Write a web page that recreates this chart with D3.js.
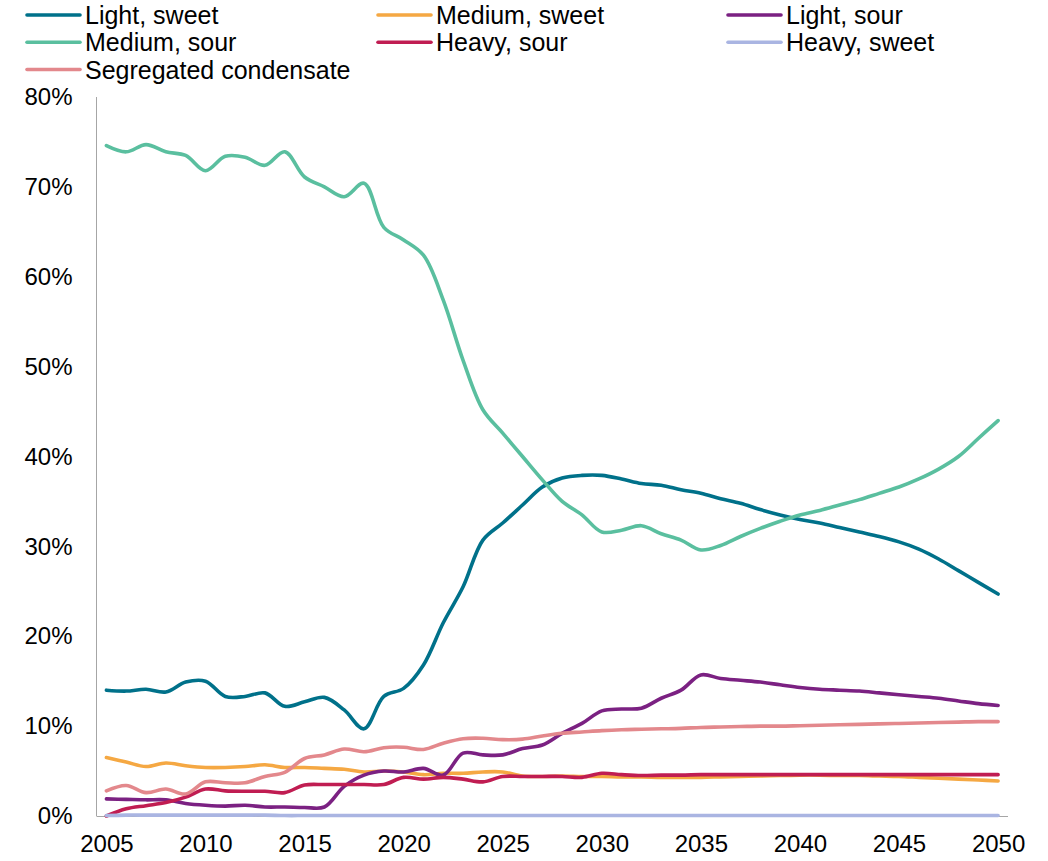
<!DOCTYPE html>
<html>
<head>
<meta charset="utf-8">
<script src="https://cdn.jsdelivr.net/npm/d3@7"></script>
<style>
  html, body { margin: 0; padding: 0; background: #fff; }
  svg { display: block; font-family: "Liberation Sans", Arial, sans-serif; }
</style>
</head>
<body>
<svg id="chart" width="1048" height="861"></svg>
<script>
// Crude oil quality shares, 2005–2050 (% of total)
const years = d3.range(2005, 2051);

const lightSweet = [14.0, 13.9, 14.1, 13.8, 14.9, 15.0, 13.3, 13.3, 13.7, 12.2,
  12.7, 13.2, 11.8, 9.7, 13.3, 14.2, 16.8, 21.5, 25.5, 30.7,
  32.6, 34.6, 36.6, 37.6, 37.9, 37.9, 37.5, 37.0, 36.8, 36.3,
  35.9, 35.3, 34.8, 34.1, 33.5, 33.0, 32.6, 32.1, 31.6, 31.1,
  30.5, 29.7, 28.6, 27.3, 26.0, 24.7];

const mediumSweet = [6.5, 6.0, 5.5, 5.9, 5.6, 5.4, 5.4, 5.5, 5.7, 5.4,
  5.4, 5.3, 5.2, 4.9, 5.0, 4.9, 4.6, 4.75, 4.75, 4.9,
  4.9, 4.45, 4.4, 4.45, 4.4, 4.4, 4.35, 4.35, 4.3, 4.3,
  4.3, 4.35, 4.4, 4.45, 4.5, 4.55, 4.55, 4.5, 4.5, 4.45,
  4.4, 4.3, 4.2, 4.1, 4.0, 3.9];

const lightSour = [1.9, 1.85, 1.8, 1.8, 1.4, 1.2, 1.1, 1.2, 1.0, 1.0,
  0.95, 1.0, 3.3, 4.55, 5.0, 4.9, 5.3, 4.55, 7.0, 6.8,
  6.8, 7.5, 7.9, 9.2, 10.3, 11.7, 11.9, 12.0, 13.1, 14.0,
  15.7, 15.3, 15.1, 14.9, 14.6, 14.3, 14.1, 14.0, 13.9, 13.7,
  13.5, 13.3, 13.1, 12.8, 12.5, 12.3];

const mediumSour = [74.6, 73.9, 74.7, 73.9, 73.5, 71.8, 73.4, 73.3, 72.4, 73.9,
  71.1, 70.0, 68.9, 70.4, 65.5, 64.1, 62.4, 57.4, 50.7, 45.2,
  42.6, 40.0, 37.4, 35.0, 33.5, 31.6, 31.8, 32.3, 31.4, 30.7,
  29.6, 30.1, 31.1, 32.0, 32.8, 33.5, 34.0, 34.6, 35.2, 35.9,
  36.6, 37.5, 38.6, 40.0, 42.0, 44.0];

const heavySour = [0.0, 0.8, 1.15, 1.5, 2.1, 3.0, 2.8, 2.75, 2.75, 2.6,
  3.45, 3.5, 3.5, 3.5, 3.5, 4.3, 4.1, 4.3, 4.1, 3.8,
  4.4, 4.4, 4.4, 4.4, 4.3, 4.75, 4.6, 4.5, 4.55, 4.55,
  4.6, 4.6, 4.6, 4.6, 4.6, 4.6, 4.6, 4.6, 4.6, 4.6,
  4.6, 4.6, 4.6, 4.6, 4.6, 4.6];

const heavySweet = [0.05, 0.1, 0.1, 0.1, 0.1, 0.1, 0.1, 0.1, 0.1, 0.05,
  0.05, 0.05, 0.05, 0.05, 0.05, 0.05, 0.05, 0.05, 0.05, 0.05,
  0.05, 0.05, 0.05, 0.05, 0.05, 0.05, 0.05, 0.05, 0.05, 0.05,
  0.05, 0.05, 0.05, 0.05, 0.05, 0.05, 0.05, 0.05, 0.05, 0.05,
  0.05, 0.05, 0.05, 0.05, 0.05, 0.05];

const segregatedCondensate = [2.8, 3.4, 2.6, 3.0, 2.45, 3.8, 3.7, 3.7, 4.4, 4.85,
  6.4, 6.8, 7.45, 7.15, 7.6, 7.65, 7.4, 8.1, 8.6, 8.65,
  8.5, 8.55, 8.9, 9.2, 9.35, 9.5, 9.6, 9.65, 9.7, 9.75,
  9.85, 9.9, 9.95, 10.0, 10.0, 10.05, 10.1, 10.15, 10.2, 10.25,
  10.3, 10.35, 10.4, 10.45, 10.5, 10.5];

const seriesNames = ["Light, sweet", "Medium, sweet", "Light, sour", "Medium, sour",
  "Heavy, sour", "Heavy, sweet", "Segregated condensate"];
const seriesColors = ["#00718a", "#f5a843", "#7b2182", "#5abf9f",
  "#c01d52", "#aab5e2", "#e3888c"];
const seriesValues = [lightSweet, mediumSweet, lightSour, mediumSour,
  heavySour, heavySweet, segregatedCondensate];

const yTicks = [0, 10, 20, 30, 40, 50, 60, 70, 80];
const xTicks = [2005, 2010, 2015, 2020, 2025, 2030, 2035, 2040, 2045, 2050];

const svg = d3.select("#chart");

// Plot frame: category axis spans 46 slots, points centred in each slot
const plotLeft = 96.5, plotRight = 1008, plotTop = 97, plotBottom = 816;
const slot = (plotRight - plotLeft) / years.length;

const x = d3.scaleLinear()
  .domain([2005, 2050])
  .range([plotLeft + slot / 2, plotRight - slot / 2]);
const y = d3.scaleLinear().domain([0, 80]).range([plotBottom, plotTop]);

// Axis lines
svg.append("line")
  .attr("x1", plotLeft).attr("x2", plotLeft)
  .attr("y1", plotTop).attr("y2", plotBottom)
  .attr("stroke", "#a6a6a6").attr("stroke-width", 1);
svg.append("line")
  .attr("x1", plotLeft).attr("x2", plotRight)
  .attr("y1", plotBottom + 0.5).attr("y2", plotBottom + 0.5)
  .attr("stroke", "#a6a6a6").attr("stroke-width", 1);

// Y axis labels
const yAxis = d3.axisLeft(y)
  .tickValues(yTicks)
  .tickFormat(d => d + "%")
  .tickSize(0)
  .tickPadding(24);
const yg = svg.append("g").attr("transform", `translate(${plotLeft},0)`).call(yAxis);
yg.select(".domain").remove();
yg.selectAll("text")
  .attr("font-size", 24)
  .attr("font-family", "Liberation Sans, Arial, sans-serif")
  .attr("fill", "#000");

// X axis labels
const xAxis = d3.axisBottom(x)
  .tickValues(xTicks)
  .tickFormat(d3.format("d"))
  .tickSize(0)
  .tickPadding(19);
const xg = svg.append("g").attr("transform", `translate(0,${plotBottom})`).call(xAxis);
xg.select(".domain").remove();
xg.selectAll("text")
  .attr("font-size", 24)
  .attr("font-family", "Liberation Sans, Arial, sans-serif")
  .attr("fill", "#000");

// Smoothed series lines
const line = d3.line()
  .x((d, i) => x(years[i]))
  .y(d => y(d))
  .curve(d3.curveCatmullRom.alpha(0.5));

svg.append("g")
  .selectAll("path")
  .data(seriesValues)
  .join("path")
  .attr("d", d => line(d))
  .attr("fill", "none")
  .attr("stroke", (d, i) => seriesColors[i])
  .attr("stroke-width", 3.6)
  .attr("stroke-linecap", "round")
  .attr("stroke-linejoin", "round");

// Legend: three columns, filled row by row
const legendCols = [27, 378, 728];
const legendRows = [15, 42.3, 69.5];
const legend = svg.append("g")
  .selectAll("g")
  .data(seriesNames)
  .join("g")
  .attr("transform", (d, i) => `translate(${legendCols[i % 3]},${legendRows[Math.floor(i / 3)]})`);

legend.append("line")
  .attr("x1", 0).attr("x2", 53)
  .attr("y1", 0).attr("y2", 0)
  .attr("stroke", (d, i) => seriesColors[i])
  .attr("stroke-width", 3.6)
  .attr("stroke-linecap", "round");

legend.append("text")
  .attr("x", 58)
  .attr("y", 9)
  .attr("font-size", 25)
  .attr("fill", "#000")
  .text(d => d);
</script>
</body>
</html>
